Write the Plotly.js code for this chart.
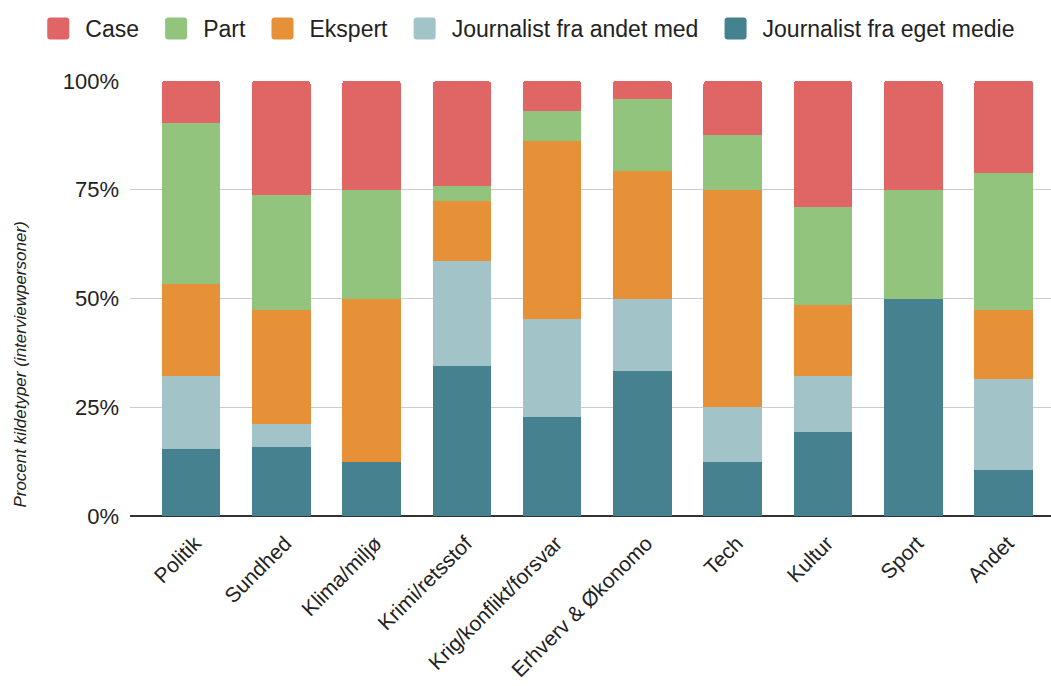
<!DOCTYPE html>
<html>
<head>
<meta charset="utf-8">
<script src="https://cdn.plot.ly/plotly-3.0.1.min.js"></script>
<style>
  html, body { margin: 0; padding: 0; background: #ffffff; }
  #chart { width: 1051px; height: 686px; }
</style>
</head>
<body>
<div id="chart"></div>
<script>
// Source types per news section, share of interviewees (percent)
const categories = ["Politik", "Sundhed", "Klima/miljø", "Krimi/retsstof", "Krig/konflikt/forsvar",
                    "Erhverv & Økonomo", "Tech", "Kultur", "Sport", "Andet"];

const journalistEget  = [15.4, 15.8, 12.5, 34.5, 22.7, 33.3, 12.5, 19.4, 50.0, 10.5];
const journalistAndet = [16.9,  5.3,  0.0, 24.1, 22.7, 16.7, 12.5, 12.9,  0.0, 21.1];
const ekspert         = [21.0, 26.3, 37.5, 13.8, 40.9, 29.2, 50.0, 16.1,  0.0, 15.8];
const part            = [37.0, 26.3, 25.0,  3.4,  6.8, 16.6, 12.5, 22.6, 25.0, 31.5];
const caseShare       = [ 9.7, 26.3, 25.0, 24.1,  6.9,  4.2, 12.5, 29.0, 25.0, 21.1];

const yTickVals = [0, 25, 50, 75, 100];
const yTickText = ["0%", "25%", "50%", "75%", "100%"];

const FONT = "Liberation Sans, Arial, sans-serif";
// non-breaking spaces widen the gap between legend entries
const PAD = "\u00a0\u00a0\u00a0";

function series(name, values, color) {
  return {
    type: "bar",
    name: name + PAD,
    x: categories,
    y: values,
    marker: { color: color, line: { width: 0 } },
    hoverinfo: "skip"
  };
}

const traces = [
  series("Journalist fra eget medie", journalistEget, "#45818e"),
  series("Journalist fra andet med", journalistAndet, "#a2c4c9"),
  series("Ekspert", ekspert, "#e69138"),
  series("Part", part, "#93c47d"),
  series("Case", caseShare, "#e06666")
];

const layout = {
  width: 1051,
  height: 686,
  margin: { l: 130, r: 0, t: 81, b: 170 },
  paper_bgcolor: "#ffffff",
  plot_bgcolor: "#ffffff",
  font: { family: FONT, size: 21, color: "#222222" },
  barmode: "stack",
  bargap: 0.352,
  barcornerradius: 3,
  showlegend: true,
  legend: {
    orientation: "h",
    traceorder: "reversed",
    x: -0.092,
    xanchor: "left",
    y: 1.17,
    yanchor: "top",
    font: { family: FONT, size: 23, color: "#222222" },
    bgcolor: "rgba(0,0,0,0)"
  },
  xaxis: {
    type: "category",
    range: [-0.675, 9.525],
    tickangle: -45,
    showgrid: false,
    showline: false,
    ticks: "",
    ticklabelstandoff: 10,
    ticklabelshift: 4,
    tickfont: { family: FONT, size: 21, color: "#222222" },
    fixedrange: true
  },
  yaxis: {
    range: [0, 100],
    tickvals: yTickVals,
    ticktext: yTickText,
    showgrid: true,
    gridcolor: "#cccccc",
    gridwidth: 1,
    zeroline: true,
    zerolinecolor: "#333333",
    zerolinewidth: 1.5,
    showline: false,
    ticks: "",
    ticklabelstandoff: 10,
    tickfont: { family: FONT, size: 22, color: "#222222" },
    fixedrange: true
  },
  annotations: [{
    text: "<i>Procent kildetyper (interviewpersoner)</i>",
    xref: "paper", yref: "paper",
    x: -0.119, y: 0.349,
    xanchor: "center", yanchor: "middle",
    textangle: -90,
    showarrow: false,
    font: { family: FONT, size: 17, color: "#222222" }
  }]
};

Plotly.newPlot("chart", traces, layout, { displayModeBar: false, staticPlot: true }).then(function () {
  // Larger rounded legend swatches
  const swatch = "M-8,-11H8A3,3 0 0 1 11,-8V8A3,3 0 0 1 8,11H-8A3,3 0 0 1 -11,8V-8A3,3 0 0 1 -8,-11Z";
  document.querySelectorAll(".legend .legendpoints path").forEach(function (p) {
    p.setAttribute("d", swatch);
    p.setAttribute("transform", "translate(13,0)");
  });
});
</script>
</body>
</html>
